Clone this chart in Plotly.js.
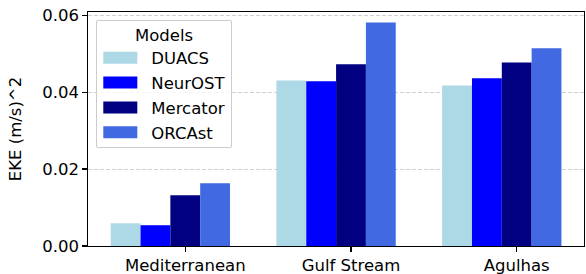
<!DOCTYPE html>
<html>
<head>
<meta charset="utf-8">
<script src="https://cdn.plot.ly/plotly-3.0.1.min.js"></script>
<style>html,body{margin:0;padding:0;background:#fff;}#chart{width:586px;height:274px;}</style>
</head>
<body>
<div id="chart"></div>
<script>
const categories = ["Mediterranean", "Gulf Stream", "Agulhas"];
const seriesNames = ["DUACS", "NeurOST", "Mercator", "ORCAst"];
const duacs = [0.0059, 0.0430, 0.0417];
const neurost = [0.0054, 0.0428, 0.0436];
const mercator = [0.0132, 0.0472, 0.0477];
const orcast = [0.0163, 0.0581, 0.0514];
const colors = ["#ADD8E6", "#0000FF", "#000080", "#4169E1"];
const yTicks = [0, 0.02, 0.04, 0.06];

const allValues = [duacs, neurost, mercator, orcast];
const barWidth = 0.18;
const FONT = "DejaVu Sans";
const FS = 16.5;

const traces = allValues.map((vals, i) => ({
  type: "bar",
  name: seriesNames[i],
  x: categories,
  y: vals,
  width: barWidth,
  offset: -0.45 + i * barWidth,
  marker: {color: colors[i], line: {width: 0}},
  hoverinfo: "x+y+name"
}));

const layout = {
  width: 586, height: 274,
  margin: {l: 88, r: 2, t: 11.5, b: 28.3, pad: 0},
  paper_bgcolor: "#fff", plot_bgcolor: "#fff",
  font: {family: FONT, size: FS, color: "#000"},
  barmode: "overlay",
  showlegend: true,
  legend: {
    x: 0.0167, y: 0.9637, xanchor: "left", yanchor: "top",
    bgcolor: "rgba(255,255,255,0.8)", bordercolor: "#cccccc", borderwidth: 1,
    title: {text: "Models", side: "top center", font: {family: FONT, size: FS}},
    font: {family: FONT, size: FS},
    itemwidth: 44, tracegroupgap: 0, traceorder: "normal"
  },
  xaxis: {
    type: "category",
    range: [-0.587, 2.406],
    showgrid: false, zeroline: false,
    showline: true, linecolor: "#000", linewidth: 1.1, mirror: true,
    ticks: "outside", ticklen: 4.5, tickwidth: 1.1, tickcolor: "#000",
    tickfont: {family: FONT, size: FS}
  },
  yaxis: {
    range: [0, 0.0608],
    tickvals: yTicks, tickformat: ".2f",
    showgrid: true, gridcolor: "#cfcfcf", gridwidth: 1, griddash: "4px,2px",
    zeroline: false,
    showline: true, linecolor: "#000", linewidth: 1.1, mirror: true,
    ticks: "outside", ticklen: 4.5, tickwidth: 1.1, tickcolor: "#000",
    tickfont: {family: FONT, size: FS},
    title: {text: "EKE (m/s)^2", font: {family: FONT, size: FS}, standoff: 16}
  }
};

function shift(el, dx, dy) {
  const cur = el.getAttribute("transform") || "";
  el.setAttribute("transform", cur + " translate(" + dx + "," + dy + ")");
}

Plotly.newPlot("chart", traces, layout, {staticPlot: true, displayModeBar: false}).then(gd => {
  const bg = gd.querySelector(".legend .bg");
  if (!bg) return;
  // legend frame: 96.3..231.7 x 20..147.7 in page pixels
  const b0 = bg.getBoundingClientRect();
  const bw = parseFloat(bg.getAttribute("width")) || b0.width;
  const bh = parseFloat(bg.getAttribute("height")) || b0.height;
  bg.setAttribute("width", bw + (135.4 - b0.width));
  bg.setAttribute("height", bh + (127.7 - b0.height));
  shift(bg, 96.3 - b0.left, 20 - b0.top);
  const bgBox = bg.getBoundingClientRect();
  bg.setAttribute("rx", 3); bg.setAttribute("ry", 3);

  const title = gd.querySelector(".legend .legendtitletext");
  if (title) {
    const t = title.getBoundingClientRect();
    shift(title, (bgBox.left + bgBox.width / 2) - (t.left + t.width / 2), (bgBox.top + 15.2) - (t.top + t.height / 2));
  }
  gd.querySelectorAll(".legend .traces").forEach((tr, i) => {
    const cy = bgBox.top + 37.8 + 24.8 * i;
    const path = tr.querySelector(".legendpoints path");
    if (path) {
      path.setAttribute("d", "M17,6H-17V-6H17Z");
      const pb = path.getBoundingClientRect();
      shift(path, (bgBox.left + 7) - pb.left, cy - (pb.top + pb.height / 2));
    }
    const txt = tr.querySelector(".legendtext");
    if (txt) {
      const tb = txt.getBoundingClientRect();
      shift(txt, (bgBox.left + 55) - tb.left, (cy + 1) - (tb.top + tb.height / 2));
    }
  });
});
</script>
</body>
</html>
